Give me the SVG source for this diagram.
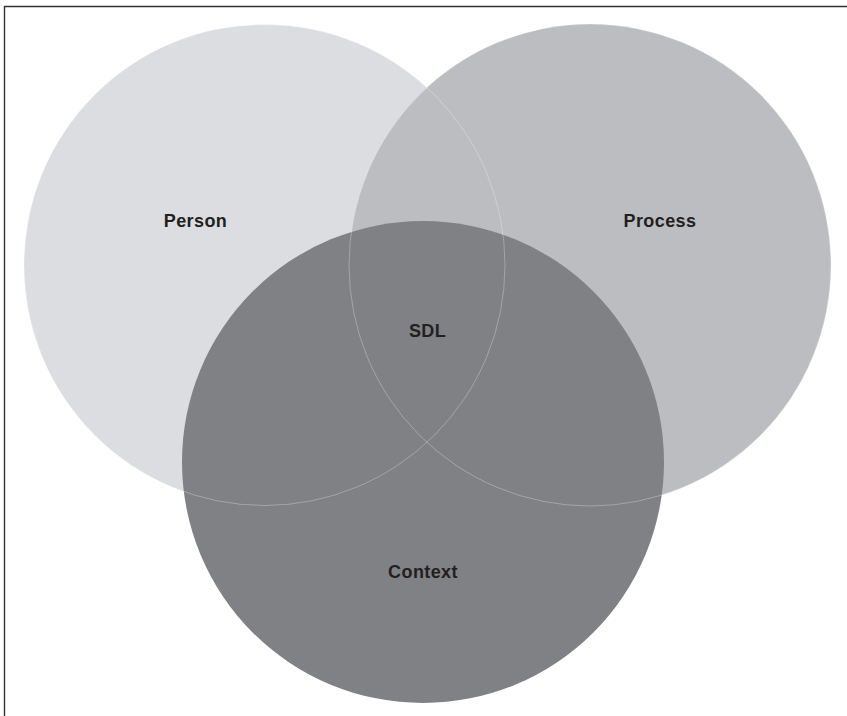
<svg xmlns="http://www.w3.org/2000/svg" width="847" height="716" viewBox="0 0 847 716">
<style>
.lbl{font-family:"Liberation Sans",Arial,sans-serif;font-weight:bold;font-size:18px;fill:#231f20;text-anchor:middle;letter-spacing:0.4px}
.edge{fill:none;stroke:#ffffff;stroke-opacity:0.4;stroke-width:0.7}
</style>
<rect x="0" y="0" width="847" height="716" fill="#ffffff"/>
<path d="M4.5 716 V6.5 H847" fill="none" stroke="#333333" stroke-width="1.4"/>
<g id="person"><circle cx="264.5" cy="265" r="240.5" fill="#dcdde0"/></g>
<g id="process"><circle cx="590" cy="265" r="241" fill="#bcbdc1"/></g>
<g id="context"><circle cx="423" cy="462" r="241" fill="#808184"/></g>
<g id="outlines">
<circle class="edge" cx="264.5" cy="265" r="240.5"/>
<circle class="edge" cx="590" cy="265" r="241"/>
</g>
<g id="labels">
<text class="lbl" x="195.5" y="227">Person</text>
<text class="lbl" x="660" y="227">Process</text>
<text class="lbl" x="427.5" y="337">SDL</text>
<text class="lbl" x="423" y="578">Context</text>
</g>
</svg>
